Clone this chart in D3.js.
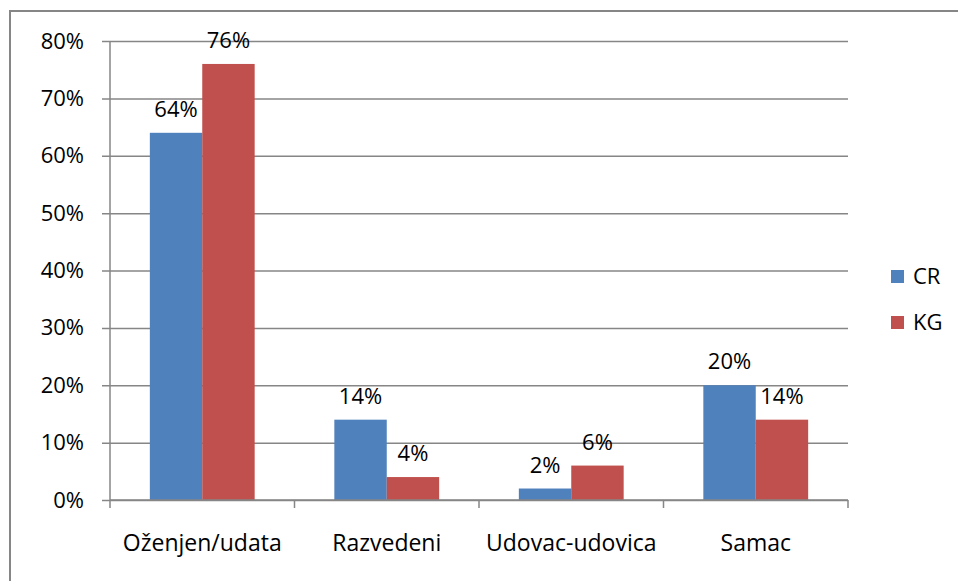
<!DOCTYPE html>
<html>
<head>
<meta charset="utf-8">
<script src="https://cdn.jsdelivr.net/npm/d3@7"></script>
<style>
  body { margin: 0; background: #fff; }
  svg { display: block; }
</style>
</head>
<body>
<div id="container"></div>
<script>
const width = 958;
const height = 581;

const categories = ["Oženjen/udata", "Razvedeni", "Udovac-udovica", "Samac"];
const seriesNames = ["CR", "KG"];
const crValues = [64, 14, 2, 20];
const kgValues = [76, 4, 6, 14];
const yTicks = [0, 10, 20, 30, 40, 50, 60, 70, 80];

const colors = ["#4F81BD", "#C0504D"];
const font = "'Open Sans', sans-serif";
const fs = 22;

const margin = {top: 41, right: 110, bottom: 81, left: 110};

const data = categories.map((c, i) => ({cat: c, values: [crValues[i], kgValues[i]]}));

const svg = d3.select("div#container")
    .append("svg")
    .attr("width", width)
    .attr("height", height)
    .style("font-family", font);

// outer chart border (runs off the right and bottom edge)
svg.append("rect")
    .attr("x", 10).attr("y", 11)
    .attr("width", 960).attr("height", 580)
    .attr("fill", "none")
    .attr("stroke", "#868686")
    .attr("stroke-width", 2);

const x = d3.scaleBand()
    .domain(categories)
    .range([margin.left, width - margin.right]);

const xs = d3.scaleBand()
    .domain(seriesNames)
    .range([0, x.bandwidth()])
    .paddingOuter(0.76)
    .paddingInner(0);

const y = d3.scaleLinear()
    .domain([0, 80])
    .range([height - margin.bottom, margin.top]);

// gridlines + y axis
const yAxis = d3.axisLeft(y)
    .tickValues(yTicks)
    .tickFormat(d => d + "%")
    .tickSize(-(width - margin.left - margin.right + 8))
    .tickPadding(16);

const yg = svg.append("g")
    .attr("transform", `translate(${margin.left - 8},0)`)
    .call(yAxis);
yg.select(".domain").remove();
yg.selectAll(".tick line").attr("stroke", "#868686").attr("stroke-width", 1.5);
yg.selectAll(".tick text")
    .attr("font-size", fs)
    .attr("fill", "#000")
    .attr("font-family", font)
    .attr("x", -18);

// vertical axis line
svg.append("line")
    .attr("x1", margin.left).attr("x2", margin.left)
    .attr("y1", y(80)).attr("y2", y(0))
    .attr("stroke", "#868686").attr("stroke-width", 1.5);

// bars
const group = svg.append("g")
    .selectAll("g")
    .data(data)
    .join("g")
    .attr("transform", d => `translate(${x(d.cat)},0)`);

group.selectAll("rect")
    .data(d => d.values.map((v, i) => ({name: seriesNames[i], value: v, i})))
    .join("rect")
    .attr("x", d => xs(d.name))
    .attr("y", d => y(d.value))
    .attr("width", xs.bandwidth())
    .attr("height", d => y(0) - y(d.value))
    .attr("fill", d => colors[d.i]);

group.selectAll("text")
    .data(d => d.values.map((v, i) => ({name: seriesNames[i], value: v})))
    .join("text")
    .attr("x", d => xs(d.name) + xs.bandwidth() / 2)
    .attr("y", d => y(d.value) - 16)
    .attr("text-anchor", "middle")
    .attr("font-size", fs)
    .attr("fill", "#000")
    .text(d => d.value + "%");

// x axis
const xAxis = d3.axisBottom(x).tickSize(0).tickPadding(0);
const xg = svg.append("g")
    .attr("transform", `translate(0,${y(0)})`)
    .call(xAxis);
xg.select(".domain").remove();
xg.selectAll(".tick text")
    .attr("font-size", 23)
    .attr("fill", "#000")
    .attr("font-family", font)
    .attr("dy", 0)
    .attr("y", 51);

svg.append("line")
    .attr("x1", margin.left).attr("x2", width - margin.right)
    .attr("y1", y(0)).attr("y2", y(0))
    .attr("stroke", "#868686").attr("stroke-width", 1.5);

const boundaries = categories.map(c => x(c)).concat([width - margin.right]);
svg.append("g")
    .selectAll("line")
    .data(boundaries)
    .join("line")
    .attr("x1", d => d).attr("x2", d => d)
    .attr("y1", y(0)).attr("y2", y(0) + 8)
    .attr("stroke", "#868686").attr("stroke-width", 1.5);

// legend
const legend = svg.append("g")
    .selectAll("g")
    .data(seriesNames)
    .join("g")
    .attr("transform", (d, i) => `translate(891,${270 + i * 46})`);

legend.append("rect")
    .attr("width", 13).attr("height", 13)
    .attr("fill", (d, i) => colors[i]);

legend.append("text")
    .attr("x", 22)
    .attr("y", 14)
    .attr("font-size", fs)
    .attr("fill", "#000")
    .text(d => d);
</script>
</body>
</html>
